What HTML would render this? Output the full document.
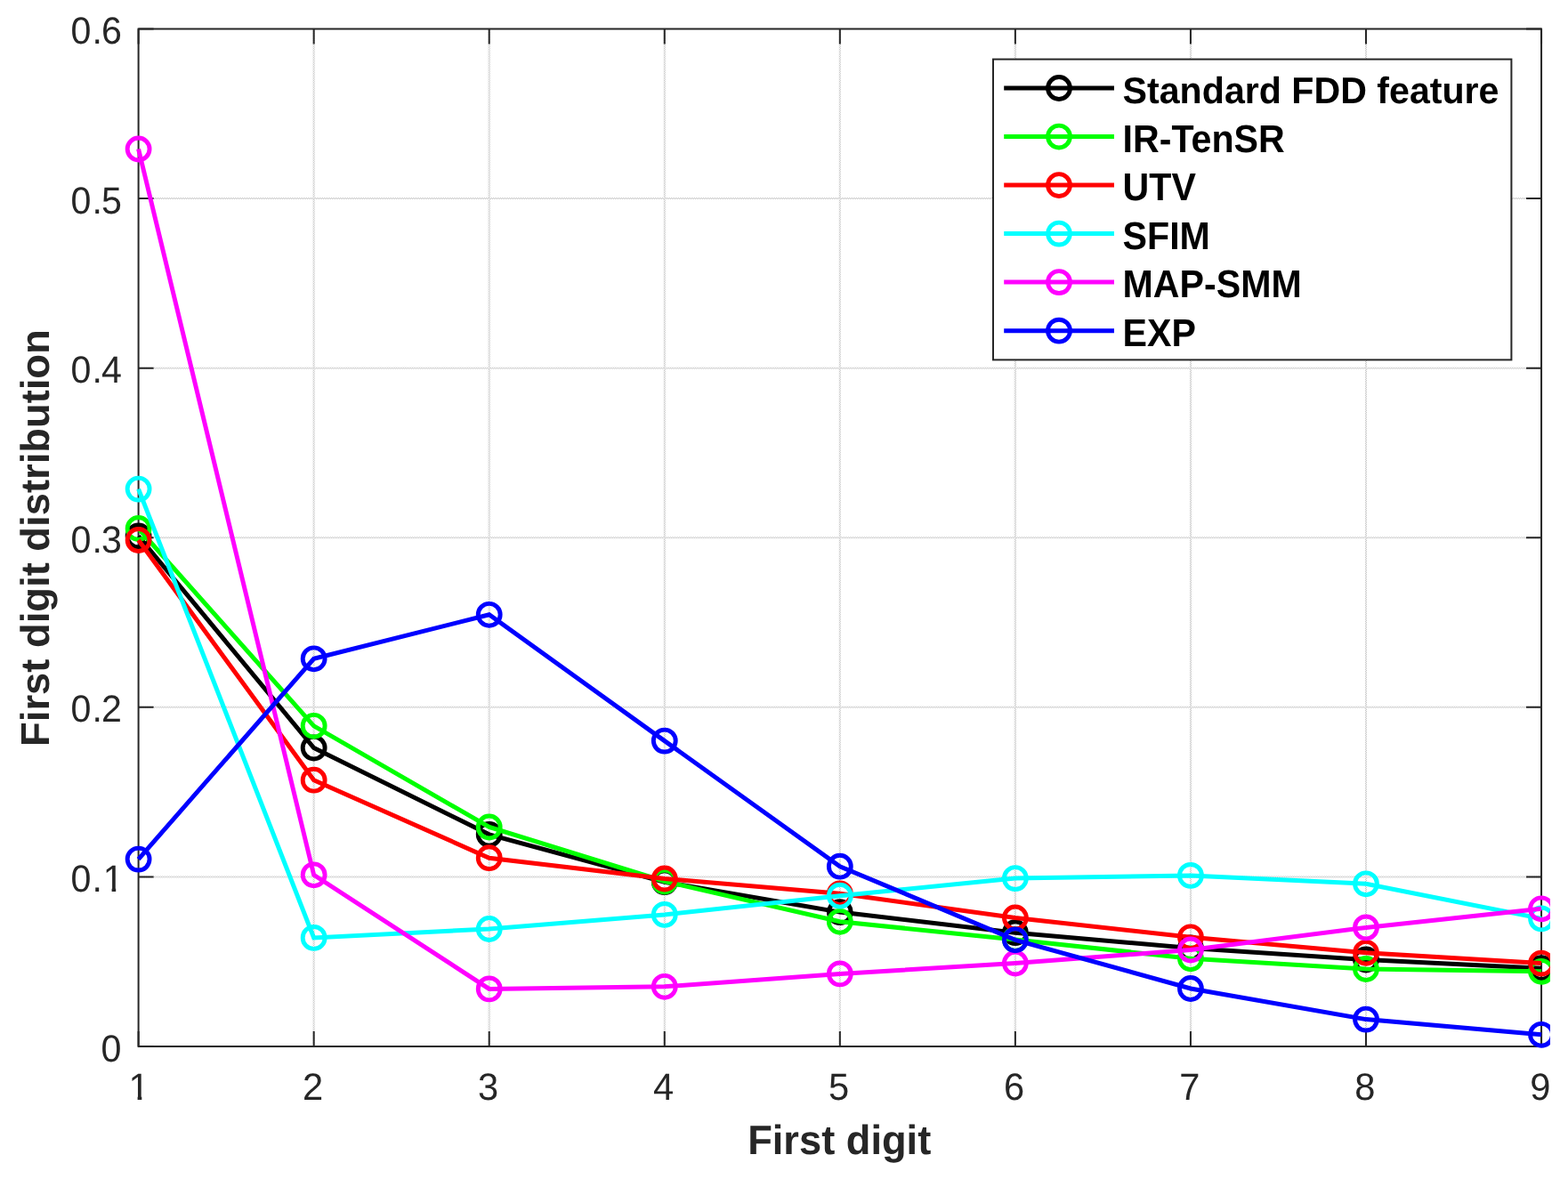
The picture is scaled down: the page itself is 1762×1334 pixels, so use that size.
<!DOCTYPE html>
<html lang="en"><head><meta charset="utf-8"><title>First digit distribution</title>
<style>
html,body{margin:0;padding:0;background:#fff;}
body{width:1762px;height:1334px;overflow:hidden;}
svg{display:block;}
</style></head><body>
<svg width="1762" height="1334" viewBox="0 0 1762 1334">
<defs><clipPath id="k1"><rect x="0" y="1190" width="400" height="42"/><rect x="154.6" y="1232" width="4.7" height="10"/></clipPath><clipPath id="k2"><rect x="0" y="950" width="150" height="48"/><rect x="60" y="998" width="56" height="10"/><rect x="125.6" y="998" width="4.6" height="10"/></clipPath><clipPath id="c"><rect x="0" y="0" width="1742" height="1334"/></clipPath></defs>
<pattern id="chk" width="2" height="2" patternUnits="userSpaceOnUse"><rect width="2" height="2" fill="#fff"/><rect x="0" y="0" width="1" height="1" fill="#c0c0c0"/><rect x="1" y="1" width="1" height="1" fill="#c0c0c0"/></pattern>
<rect width="1762" height="1334" fill="#fff"/>
<path d="M352.66 32.5 V1176.05 M549.71 32.5 V1176.05 M746.77 32.5 V1176.05 M943.83 32.5 V1176.05 M1140.88 32.5 V1176.05 M1337.94 32.5 V1176.05 M1534.99 32.5 V1176.05 M155.6 985.46 H1732.05 M155.6 794.87 H1732.05 M155.6 604.27 H1732.05 M155.6 413.68 H1732.05 M155.6 223.09 H1732.05" stroke="url(#chk)" stroke-width="2" fill="none"/>
<rect x="155.6" y="32.5" width="1576.45" height="1143.55" fill="none" stroke="#262626" stroke-width="2"/>
<path d="M155.60 1176.05 v-17 M155.60 32.5 v17 M352.66 1176.05 v-17 M352.66 32.5 v17 M549.71 1176.05 v-17 M549.71 32.5 v17 M746.77 1176.05 v-17 M746.77 32.5 v17 M943.83 1176.05 v-17 M943.83 32.5 v17 M1140.88 1176.05 v-17 M1140.88 32.5 v17 M1337.94 1176.05 v-17 M1337.94 32.5 v17 M1534.99 1176.05 v-17 M1534.99 32.5 v17 M1732.05 1176.05 v-17 M1732.05 32.5 v17 M155.6 1176.05 h17 M1732.05 1176.05 h-17 M155.6 985.46 h17 M1732.05 985.46 h-17 M155.6 794.87 h17 M1732.05 794.87 h-17 M155.6 604.27 h17 M1732.05 604.27 h-17 M155.6 413.68 h17 M1732.05 413.68 h-17 M155.6 223.09 h17 M1732.05 223.09 h-17 M155.6 32.50 h17 M1732.05 32.50 h-17" stroke="#262626" stroke-width="2" fill="none"/>
<g text-rendering="geometricPrecision" font-family="'Liberation Sans', Arial, Helvetica, sans-serif" font-size="41.67" fill="#262626">
<g clip-path="url(#k1)"><text transform="translate(156.20 1236.1) scale(1 1.022)" text-anchor="middle">1</text></g>
<text transform="translate(351.46 1236.1) scale(1 1.022)" text-anchor="middle">2</text>
<text transform="translate(548.51 1236.1) scale(1 1.022)" text-anchor="middle">3</text>
<text transform="translate(745.57 1236.1) scale(1 1.022)" text-anchor="middle">4</text>
<text transform="translate(942.62 1236.1) scale(1 1.022)" text-anchor="middle">5</text>
<text transform="translate(1139.68 1236.1) scale(1 1.022)" text-anchor="middle">6</text>
<text transform="translate(1336.74 1236.1) scale(1 1.022)" text-anchor="middle">7</text>
<text transform="translate(1533.79 1236.1) scale(1 1.022)" text-anchor="middle">8</text>
<text transform="translate(1730.85 1236.1) scale(1 1.022)" text-anchor="middle">9</text>
</g>
<g text-rendering="geometricPrecision" font-family="'Liberation Sans', Arial, Helvetica, sans-serif" font-size="41.15" fill="#262626">
<text transform="translate(136.5 1192.65) scale(1 1.033)" text-anchor="end">0</text>
<g clip-path="url(#k2)"><text transform="translate(138.6 1002.06) scale(1 1.033)" text-anchor="end">0<tspan dx="1">.</tspan><tspan dx="0.8">1</tspan></text></g>
<text transform="translate(136.8 811.47) scale(1 1.033)" text-anchor="end">0<tspan dx="1">.</tspan><tspan dx="-1">2</tspan></text>
<text transform="translate(136.8 620.88) scale(1 1.033)" text-anchor="end">0<tspan dx="1">.</tspan><tspan dx="-1">3</tspan></text>
<text transform="translate(136.8 430.28) scale(1 1.033)" text-anchor="end">0<tspan dx="1">.</tspan><tspan dx="-1">4</tspan></text>
<text transform="translate(136.8 239.69) scale(1 1.033)" text-anchor="end">0<tspan dx="1">.</tspan><tspan dx="-1">5</tspan></text>
<text transform="translate(136.8 49.10) scale(1 1.033)" text-anchor="end">0<tspan dx="1">.</tspan><tspan dx="-1">6</tspan></text>
</g>
<g text-rendering="geometricPrecision" font-family="'Liberation Sans', Arial, Helvetica, sans-serif" font-size="45.25" font-weight="bold" fill="#262626">
<text transform="translate(943.2 1297.1) scale(1 1.02)" text-anchor="middle">First digit</text>
<text font-size="45.36" transform="translate(55.3 604.55) rotate(-90) scale(1 0.995)" text-anchor="middle">First digit distribution</text>
</g>
<g clip-path="url(#c)" fill="none">
<polyline points="155.60,602.50 352.66,840.50 549.71,937.80 746.77,991.20 943.83,1025.10 1140.88,1048.20 1337.94,1065.50 1534.99,1078.50 1732.05,1088.20" stroke="#000000" stroke-width="5.0" stroke-linejoin="miter"/>
<circle cx="155.60" cy="602.50" r="12.45" stroke="#000000" stroke-width="4.9"/>
<circle cx="352.66" cy="840.50" r="12.45" stroke="#000000" stroke-width="4.9"/>
<circle cx="549.71" cy="937.80" r="12.45" stroke="#000000" stroke-width="4.9"/>
<circle cx="746.77" cy="991.20" r="12.45" stroke="#000000" stroke-width="4.9"/>
<circle cx="943.83" cy="1025.10" r="12.45" stroke="#000000" stroke-width="4.9"/>
<circle cx="1140.88" cy="1048.20" r="12.45" stroke="#000000" stroke-width="4.9"/>
<circle cx="1337.94" cy="1065.50" r="12.45" stroke="#000000" stroke-width="4.9"/>
<circle cx="1534.99" cy="1078.50" r="12.45" stroke="#000000" stroke-width="4.9"/>
<circle cx="1732.05" cy="1088.20" r="12.45" stroke="#000000" stroke-width="4.9"/>
<polyline points="155.60,594.00 352.66,815.80 549.71,929.50 746.77,990.50 943.83,1035.80 1140.88,1055.90 1337.94,1077.30 1534.99,1089.00 1732.05,1091.80" stroke="#00ff00" stroke-width="5.0" stroke-linejoin="miter"/>
<circle cx="155.60" cy="594.00" r="12.45" stroke="#00ff00" stroke-width="4.9"/>
<circle cx="352.66" cy="815.80" r="12.45" stroke="#00ff00" stroke-width="4.9"/>
<circle cx="549.71" cy="929.50" r="12.45" stroke="#00ff00" stroke-width="4.9"/>
<circle cx="746.77" cy="990.50" r="12.45" stroke="#00ff00" stroke-width="4.9"/>
<circle cx="943.83" cy="1035.80" r="12.45" stroke="#00ff00" stroke-width="4.9"/>
<circle cx="1140.88" cy="1055.90" r="12.45" stroke="#00ff00" stroke-width="4.9"/>
<circle cx="1337.94" cy="1077.30" r="12.45" stroke="#00ff00" stroke-width="4.9"/>
<circle cx="1534.99" cy="1089.00" r="12.45" stroke="#00ff00" stroke-width="4.9"/>
<circle cx="1732.05" cy="1091.80" r="12.45" stroke="#00ff00" stroke-width="4.9"/>
<polyline points="155.60,607.00 352.66,876.70 549.71,964.20 746.77,987.50 943.83,1004.30 1140.88,1031.50 1337.94,1053.30 1534.99,1070.80 1732.05,1082.60" stroke="#ff0000" stroke-width="5.0" stroke-linejoin="miter"/>
<circle cx="155.60" cy="607.00" r="12.45" stroke="#ff0000" stroke-width="4.9"/>
<circle cx="352.66" cy="876.70" r="12.45" stroke="#ff0000" stroke-width="4.9"/>
<circle cx="549.71" cy="964.20" r="12.45" stroke="#ff0000" stroke-width="4.9"/>
<circle cx="746.77" cy="987.50" r="12.45" stroke="#ff0000" stroke-width="4.9"/>
<circle cx="943.83" cy="1004.30" r="12.45" stroke="#ff0000" stroke-width="4.9"/>
<circle cx="1140.88" cy="1031.50" r="12.45" stroke="#ff0000" stroke-width="4.9"/>
<circle cx="1337.94" cy="1053.30" r="12.45" stroke="#ff0000" stroke-width="4.9"/>
<circle cx="1534.99" cy="1070.80" r="12.45" stroke="#ff0000" stroke-width="4.9"/>
<circle cx="1732.05" cy="1082.60" r="12.45" stroke="#ff0000" stroke-width="4.9"/>
<polyline points="155.60,549.60 352.66,1053.90 549.71,1044.00 746.77,1027.90 943.83,1006.70 1140.88,987.10 1337.94,983.90 1534.99,993.30 1732.05,1032.40" stroke="#00ffff" stroke-width="5.0" stroke-linejoin="miter"/>
<circle cx="155.60" cy="549.60" r="12.45" stroke="#00ffff" stroke-width="4.9"/>
<circle cx="352.66" cy="1053.90" r="12.45" stroke="#00ffff" stroke-width="4.9"/>
<circle cx="549.71" cy="1044.00" r="12.45" stroke="#00ffff" stroke-width="4.9"/>
<circle cx="746.77" cy="1027.90" r="12.45" stroke="#00ffff" stroke-width="4.9"/>
<circle cx="943.83" cy="1006.70" r="12.45" stroke="#00ffff" stroke-width="4.9"/>
<circle cx="1140.88" cy="987.10" r="12.45" stroke="#00ffff" stroke-width="4.9"/>
<circle cx="1337.94" cy="983.90" r="12.45" stroke="#00ffff" stroke-width="4.9"/>
<circle cx="1534.99" cy="993.30" r="12.45" stroke="#00ffff" stroke-width="4.9"/>
<circle cx="1732.05" cy="1032.40" r="12.45" stroke="#00ffff" stroke-width="4.9"/>
<polyline points="155.60,167.50 352.66,983.30 549.71,1111.40 746.77,1108.80 943.83,1094.40 1140.88,1082.50 1337.94,1067.50 1534.99,1042.40 1732.05,1021.30" stroke="#ff00ff" stroke-width="5.0" stroke-linejoin="miter"/>
<circle cx="155.60" cy="167.50" r="12.45" stroke="#ff00ff" stroke-width="4.9"/>
<circle cx="352.66" cy="983.30" r="12.45" stroke="#ff00ff" stroke-width="4.9"/>
<circle cx="549.71" cy="1111.40" r="12.45" stroke="#ff00ff" stroke-width="4.9"/>
<circle cx="746.77" cy="1108.80" r="12.45" stroke="#ff00ff" stroke-width="4.9"/>
<circle cx="943.83" cy="1094.40" r="12.45" stroke="#ff00ff" stroke-width="4.9"/>
<circle cx="1140.88" cy="1082.50" r="12.45" stroke="#ff00ff" stroke-width="4.9"/>
<circle cx="1337.94" cy="1067.50" r="12.45" stroke="#ff00ff" stroke-width="4.9"/>
<circle cx="1534.99" cy="1042.40" r="12.45" stroke="#ff00ff" stroke-width="4.9"/>
<circle cx="1732.05" cy="1021.30" r="12.45" stroke="#ff00ff" stroke-width="4.9"/>
<polyline points="155.60,965.60 352.66,740.30 549.71,690.80 746.77,832.60 943.83,973.70 1140.88,1056.30 1337.94,1111.00 1534.99,1145.60 1732.05,1162.80" stroke="#0000ff" stroke-width="5.0" stroke-linejoin="miter"/>
<circle cx="155.60" cy="965.60" r="12.45" stroke="#0000ff" stroke-width="4.9"/>
<circle cx="352.66" cy="740.30" r="12.45" stroke="#0000ff" stroke-width="4.9"/>
<circle cx="549.71" cy="690.80" r="12.45" stroke="#0000ff" stroke-width="4.9"/>
<circle cx="746.77" cy="832.60" r="12.45" stroke="#0000ff" stroke-width="4.9"/>
<circle cx="943.83" cy="973.70" r="12.45" stroke="#0000ff" stroke-width="4.9"/>
<circle cx="1140.88" cy="1056.30" r="12.45" stroke="#0000ff" stroke-width="4.9"/>
<circle cx="1337.94" cy="1111.00" r="12.45" stroke="#0000ff" stroke-width="4.9"/>
<circle cx="1534.99" cy="1145.60" r="12.45" stroke="#0000ff" stroke-width="4.9"/>
<circle cx="1732.05" cy="1162.80" r="12.45" stroke="#0000ff" stroke-width="4.9"/>
</g>
<rect x="1116.0" y="66.6" width="582.40" height="337.80" fill="#fff" stroke="#262626" stroke-width="2"/>
<g text-rendering="geometricPrecision" font-family="'Liberation Sans', Arial, Helvetica, sans-serif" font-size="41.15" font-weight="bold" fill="#000">
<path d="M1128.2 99.00 H1252" stroke="#000000" stroke-width="5.0" fill="none"/>
<circle cx="1190" cy="99.00" r="12.45" stroke="#000000" stroke-width="4.9" fill="none"/>
<text transform="translate(1261.6 116) scale(1 1.012)">Standard FDD feature</text>
<path d="M1128.2 153.53 H1252" stroke="#00ff00" stroke-width="5.0" fill="none"/>
<circle cx="1190" cy="153.53" r="12.45" stroke="#00ff00" stroke-width="4.9" fill="none"/>
<text transform="translate(1261.6 171) scale(1 1.06)">IR-TenSR</text>
<path d="M1128.2 208.06 H1252" stroke="#ff0000" stroke-width="5.0" fill="none"/>
<circle cx="1190" cy="208.06" r="12.45" stroke="#ff0000" stroke-width="4.9" fill="none"/>
<text transform="translate(1261.6 225) scale(1 1.06)">UTV</text>
<path d="M1128.2 262.59 H1252" stroke="#00ffff" stroke-width="5.0" fill="none"/>
<circle cx="1190" cy="262.59" r="12.45" stroke="#00ffff" stroke-width="4.9" fill="none"/>
<text transform="translate(1261.6 280) scale(1 1.06)">SFIM</text>
<path d="M1128.2 317.12 H1252" stroke="#ff00ff" stroke-width="5.0" fill="none"/>
<circle cx="1190" cy="317.12" r="12.45" stroke="#ff00ff" stroke-width="4.9" fill="none"/>
<text transform="translate(1261.6 334) scale(1 1.06)">MAP-SMM</text>
<path d="M1128.2 371.65 H1252" stroke="#0000ff" stroke-width="5.0" fill="none"/>
<circle cx="1190" cy="371.65" r="12.45" stroke="#0000ff" stroke-width="4.9" fill="none"/>
<text transform="translate(1261.6 389) scale(1 1.06)">EXP</text>
</g>
</svg>
</body></html>
